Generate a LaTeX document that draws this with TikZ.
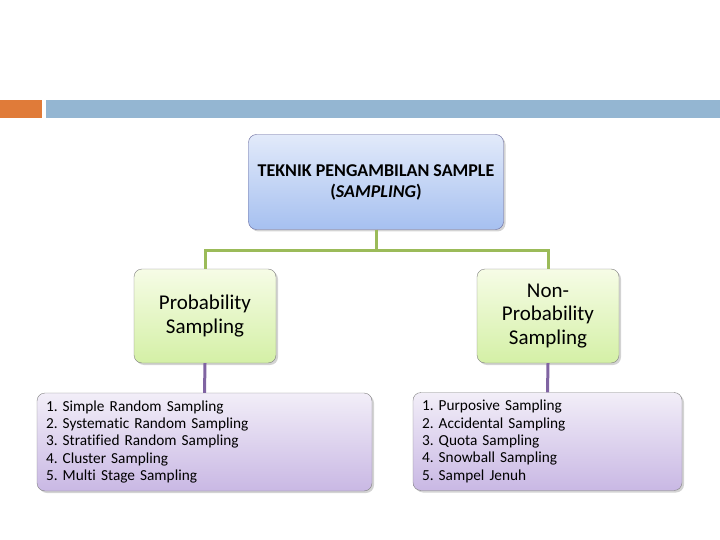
\documentclass[tikz,border=0pt]{standalone}
\usepackage{fontspec}
\setmainfont{Carlito}[Ligatures=NoCommon]
\usetikzlibrary{positioning,shadows}
\definecolor{oranye}{RGB}{224,123,57}
\definecolor{biru}{RGB}{148,182,210}
\definecolor{hijau}{RGB}{155,187,89}
\definecolor{ungu}{RGB}{128,100,162}
\definecolor{abu}{RGB}{130,130,130}
\definecolor{biruatas}{RGB}{226,234,250}
\definecolor{birubawah}{RGB}{166,192,240}
\definecolor{hijauatas}{RGB}{246,252,230}
\definecolor{hijaubawah}{RGB}{212,240,166}
\definecolor{unguatas}{RGB}{242,238,248}
\definecolor{ungubawah}{RGB}{201,184,228}
\frenchspacing

\tikzset{
  kotakjudul/.style={draw=abu!80!blue,rounded corners=8pt,top color=biruatas,bottom color=birubawah,
    minimum width=255pt,minimum height=95pt,align=center,font=\fontsize{18}{21}\selectfont\bfseries,
    drop shadow={opacity=0.35,shadow xshift=2pt,shadow yshift=-2pt}},
  kotakjenis/.style={draw=abu,rounded corners=8pt,top color=hijauatas,bottom color=hijaubawah,
    minimum width=142pt,minimum height=94pt,align=center,font=\fontsize{21}{23.5}\selectfont,
    drop shadow={opacity=0.35,shadow xshift=2pt,shadow yshift=-2pt}},
  kotakdaftar/.style={draw=abu,rounded corners=8pt,top color=unguatas,bottom color=ungubawah,
    minimum height=98pt,inner xsep=9pt,align=left,font=\fontsize{15.3}{17.4}\selectfont,
    drop shadow={opacity=0.35,shadow xshift=2pt,shadow yshift=-2pt}},
  garishijau/.style={draw=hijau,line width=3pt},
  garisungu/.style={draw=ungu,line width=3pt}
}

\begin{document}
\begin{tikzpicture}[x=1pt,y=-1pt]
\useasboundingbox (0,0) rectangle (720,540);
% pita atas
\fill[oranye] (0,100) rectangle (42,118);
\fill[biru] (46,100) rectangle (720,118);

\node[kotakjudul] (teknik) at (376,182) {TEKNIK PENGAMBILAN SAMPLE\\(\textit{SAMPLING})};
\node[kotakjenis] (prob) at (205,316) {Probability\\Sampling};
\node[kotakjenis] (nonprob) at (548,316) {Non-\\Probability\\Sampling};
\node[kotakdaftar,text width=317pt] (daftarprob) at (204.5,442)
{1. Simple Random Sampling\\2. Systematic Random Sampling\\3. Stratified Random Sampling\\4. Cluster Sampling\\5. Multi Stage Sampling};
\node[kotakdaftar,text width=251pt] (daftarnonprob) at (547.5,441.5)
{1. Purposive Sampling\\2. Accidental Sampling\\3. Quota Sampling\\4. Snowball Sampling\\5. Sampel Jenuh};

% penghubung
\draw[garishijau] (teknik.south) -- ++(0,21) -| (prob.north);
\draw[garishijau] (teknik.south) -- ++(0,21) -| (nonprob.north);
\draw[garisungu] (prob.south) -- (daftarprob.north);
\draw[garisungu] (nonprob.south) -- (daftarnonprob.north);
\end{tikzpicture}
\end{document}
